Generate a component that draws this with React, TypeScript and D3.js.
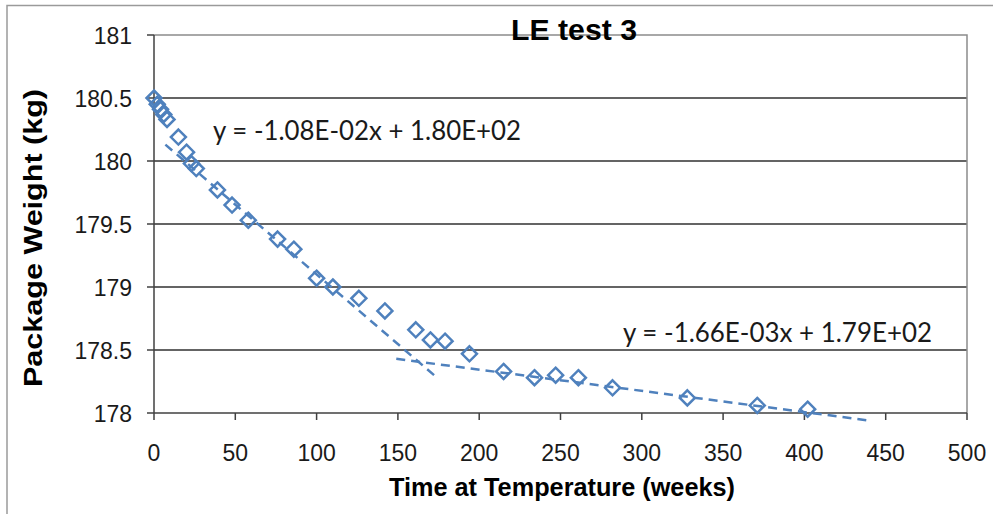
import React, { useEffect } from "react";
import * as d3 from "d3";

const weeks = [0, 2, 4, 6, 8, 15, 20, 23, 26, 39, 48, 58, 76, 86, 100, 110, 126, 142, 161, 170, 179, 194, 215, 234, 247, 261, 282, 328, 371, 402];
const weights = [180.5, 180.45, 180.41, 180.37, 180.33, 180.19, 180.07, 179.98, 179.94, 179.77, 179.65, 179.53, 179.38, 179.3, 179.07, 179.0, 178.91, 178.81, 178.66, 178.58, 178.57, 178.47, 178.33, 178.28, 178.3, 178.28, 178.2, 178.12, 178.06, 178.03];

const trend1X = [7, 175];
const trend1Y = [180.13, 178.27];
const trend2X = [149, 440];
const trend2Y = [178.43, 177.94];

const xTicks = [0, 50, 100, 150, 200, 250, 300, 350, 400, 450, 500];
const yTicks = [178, 178.5, 179, 179.5, 180, 180.5, 181];
const yTickLabels = ["178", "178.5", "179", "179.5", "180", "180.5", "181"];

const title = "LE test 3";
const xTitle = "Time at Temperature (weeks)";
const yTitle = "Package Weight (kg)";
const eq1 = "y = -1.08E-02x + 1.80E+02";
const eq2 = "y = -1.66E-03x + 1.79E+02";

const W = 993;
const H = 514;
const L = 154, R = 967, T = 35, B = 413;
const blue = "#4F81BD";

export default function App() {
  useEffect(() => {
    document.body.style.margin = "0";
  }, []);
  const x = d3.scaleLinear().domain([0, 500]).range([L, R]);
  const y = d3.scaleLinear().domain([178, 181]).range([B, T]);
  const mk = (xs: number[], ys: number[]) =>
    d3.line<[number, number]>().x((d) => x(d[0])).y((d) => y(d[1]))(xs.map((v, i) => [v, ys[i]] as [number, number])) || "";
  const r = 7.5;
  const diamond = `M0,${-r}L${r},0L0,${r}L${-r},0Z`;
  const tickFont = "'Liberation Sans', Arial, sans-serif";
  return (
    <div style={{ position: "absolute", left: 0, top: 0 }}>
      <svg width={W} height={H} style={{ display: "block", background: "#fff" }}>
        <rect x={0} y={0} width={W} height={H} fill="#fff" />
        <path d={`M7,${H}V5.5H${W}`} fill="none" stroke="#9a9a9a" strokeWidth={1.5} />
        {yTicks.filter((t) => t > 178 && t < 181).map((t) => (
          <line key={t} x1={L} x2={R} y1={y(t)} y2={y(t)} stroke="#303030" strokeWidth={1.3} />
        ))}
        <path d={`M${L},${T}H${R}V${B}`} fill="none" stroke="#8c8c8c" strokeWidth={1.5} />
        <line x1={L} x2={L} y1={T} y2={B} stroke="#404040" strokeWidth={1.5} />
        <line x1={L} x2={R} y1={B} y2={B} stroke="#404040" strokeWidth={1.5} />
        {yTicks.map((t) => (
          <line key={"yt" + t} x1={L - 7} x2={L} y1={y(t)} y2={y(t)} stroke="#404040" strokeWidth={1.5} />
        ))}
        {xTicks.map((t) => (
          <line key={"xt" + t} x1={x(t)} x2={x(t)} y1={B} y2={B + 7} stroke="#404040" strokeWidth={1.5} />
        ))}
        {yTicks.map((t, i) => (
          <text key={"yl" + t} x={L - 22} y={y(t) + 8.5} textAnchor="end" fontFamily={tickFont} fontSize={23} fill="#1a1a1a">
            {yTickLabels[i]}
          </text>
        ))}
        {xTicks.map((t) => (
          <text key={"xl" + t} x={x(t)} y={461} textAnchor="middle" fontFamily={tickFont} fontSize={23} fill="#1a1a1a">
            {String(t)}
          </text>
        ))}
        <path d={mk(trend1X, trend1Y)} fill="none" stroke={blue} strokeWidth={2.5} strokeDasharray="9 6" />
        <path d={mk(trend2X, trend2Y)} fill="none" stroke={blue} strokeWidth={2.5} strokeDasharray="9 6" />
        {weeks.map((w, i) => (
          <path key={"p" + i} d={diamond} transform={`translate(${x(w)},${y(weights[i])})`} fill="none" stroke={blue} strokeWidth={2.5} />
        ))}
        <text x={213} y={140} fontFamily="Lato, 'Open Sans', sans-serif" fontSize={26} fill="#1a1a1a" textLength={308} lengthAdjust="spacingAndGlyphs">
          {eq1}
        </text>
        <text x={623} y={342} fontFamily="Lato, 'Open Sans', sans-serif" fontSize={26} fill="#1a1a1a" textLength={309} lengthAdjust="spacingAndGlyphs">
          {eq2}
        </text>
        <text x={574} y={40} textAnchor="middle" fontFamily={tickFont} fontWeight="bold" fontSize={29} fill="#000" textLength={126} lengthAdjust="spacingAndGlyphs">
          {title}
        </text>
        <text x={562} y={496} textAnchor="middle" fontFamily={tickFont} fontWeight="bold" fontSize={25} fill="#000" textLength={346} lengthAdjust="spacingAndGlyphs">
          {xTitle}
        </text>
        <text transform={`translate(42,238) rotate(-90)`} textAnchor="middle" fontFamily={tickFont} fontWeight="bold" fontSize={25} fill="#000" textLength={298} lengthAdjust="spacingAndGlyphs">
          {yTitle}
        </text>
      </svg>
    </div>
  );
}
